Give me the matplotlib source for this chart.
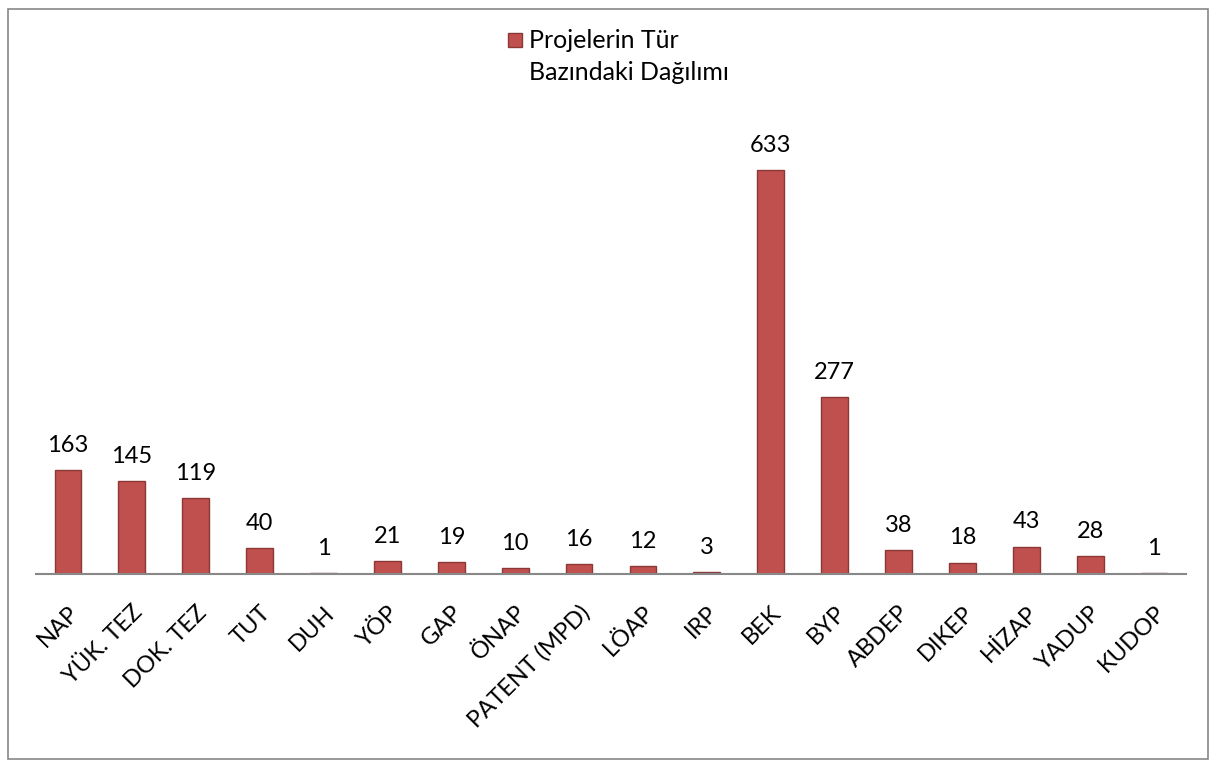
import matplotlib.pyplot as plt
from matplotlib.patches import Rectangle

plt.rcParams['font.family'] = ['Lato', 'DejaVu Sans']

categories = ["NAP", "YÜK. TEZ", "DOK. TEZ", "TUT", "DUH", "YÖP", "GAP", "ÖNAP",
              "PATENT (MPD)", "LÖAP", "IRP", "BEK", "BYP", "ABDEP", "DIKEP",
              "HİZAP", "YADUP", "KUDOP"]
counts = [163, 145, 119, 40, 1, 21, 19, 10, 16, 12, 3, 633, 277, 38, 18, 43, 28, 1]
series_name = "Projelerin Tür\nBazındaki Dağılımı"

bar_color = "#C0504D"
edge_color = "#8C3836"

W, H = 1217, 767
fig = plt.figure(figsize=(W / 100, H / 100), dpi=100)
ax = fig.add_axes([36 / W, (H - 574) / H, 1150 / W, 447 / H])

x = range(len(categories))
ax.bar(x, counts, width=0.42, color=bar_color, edgecolor=edge_color, linewidth=1)
for xi, v in zip(x, counts):
    ax.text(xi, v + 22, str(v), ha="center", va="bottom", fontsize=17)

ax.set_xlim(-0.5, len(categories) - 0.5)
ax.set_ylim(0, 700)
ax.set_xticks(list(x))
ax.set_xticklabels(categories, rotation=45, ha="right", rotation_mode="anchor",
                   fontsize=17)
ax.tick_params(axis="x", length=0, pad=20)
ax.set_yticks([])
for s in ["top", "right", "left"]:
    ax.spines[s].set_visible(False)
ax.spines["bottom"].set_color("#888888")
ax.spines["bottom"].set_linewidth(1.5)

# legend: swatch beside the first line of a two-line label
fig.patches.append(Rectangle((508 / W, 1 - 47 / H), 14 / W, 14 / H, transform=fig.transFigure,
                             facecolor=bar_color, edgecolor=edge_color, linewidth=1))
fig.text(529 / W, 1 - 29 / H, series_name, ha="left", va="top", fontsize=18,
         linespacing=1.5)

fig.patches.append(Rectangle((8 / W, 8 / H), 1200 / W, 750 / H, transform=fig.transFigure,
                             fill=False, edgecolor="#888888", linewidth=1.2))

fig.savefig("out.png", dpi=100)
